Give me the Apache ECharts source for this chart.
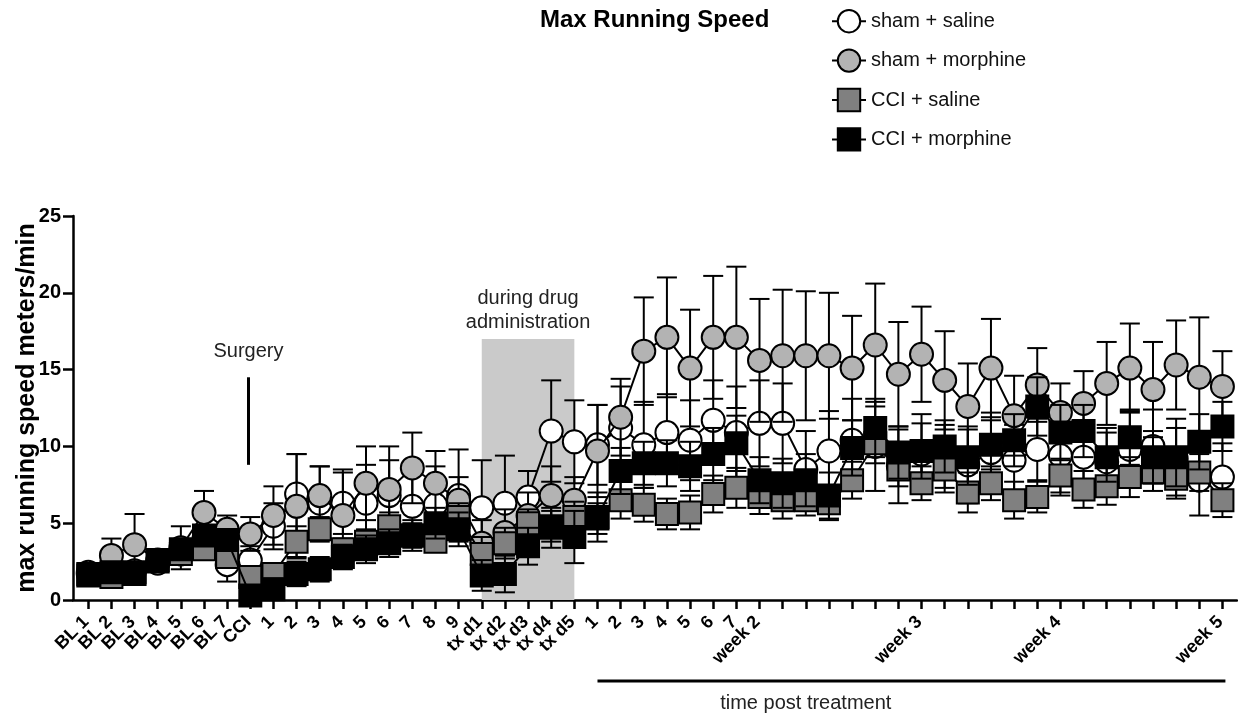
<!DOCTYPE html>
<html>
<head>
<meta charset="utf-8">
<script src="https://cdn.jsdelivr.net/npm/echarts@6/dist/echarts.min.js"></script>
<style>
  html, body { margin: 0; padding: 0; background: #fff; }
  #chart { width: 1238px; height: 715px; }
</style>
</head>
<body>
<div id="chart"></div>
<script>
// x categories (one per session)
const CATEGORIES = ['BL 1', 'BL 2', 'BL 3', 'BL 4', 'BL 5', 'BL 6', 'BL 7', 'CCI',
  '1', '2', '3', '4', '5', '6', '7', '8', '9',
  'tx d1', 'tx d2', 'tx d3', 'tx d4', 'tx d5',
  '1', '2', '3', '4', '5', '6', '7', 'week 2',
  '', '', '', '', '', '', 'week 3',
  '', '', '', '', '', 'week 4',
  '', '', '', '', '', '', 'week 5']

// means (meters/min)
const shamSaline = [1.7, 1.8, 1.9, 2.4, 3.0, 4.0, 2.3, 2.6, 4.8, 6.9, 6.3, 6.3, 6.3, 6.8, 6.1, 6.2, 6.8,
  6.0, 6.3, 6.7, 11.0, 10.3, 10.1, 11.2, 10.1, 10.9, 10.4, 11.7, 10.9, 11.5, 11.5, 8.5, 9.7, 10.4,
  10.0, 8.7, 9.5, 9.2, 8.8, 9.6, 9.1, 9.8, 9.4, 9.3, 9.0, 9.8, 10.0, 9.2, 7.8, 8.0]
const shamMorphine = [1.8, 2.9, 3.6, 2.6, 3.4, 5.7, 4.6, 4.3, 5.5, 6.1, 6.8, 5.5, 7.6, 7.2, 8.6, 7.6, 6.5,
  3.7, 4.4, 5.5, 6.8, 6.5, 9.7, 11.9, 16.2, 17.1, 15.1, 17.1, 17.1, 15.6, 15.9, 15.9, 15.9, 15.1,
  16.6, 14.7, 16.0, 14.3, 12.6, 15.1, 12.0, 14.0, 12.2, 12.8, 14.1, 15.1, 13.7, 15.3, 14.5, 13.9]
const cciSaline = [1.6, 1.5, 1.7, 2.5, 3.0, 3.3, 2.8, 1.5, 1.7, 3.8, 4.6, 3.3, 3.8, 4.8, 4.2, 3.8, 5.4,
  3.0, 3.7, 5.0, 4.8, 5.4, 5.3, 6.5, 6.2, 5.6, 5.7, 6.9, 7.3, 6.7, 6.5, 6.5, 6.3, 7.8,
  10.2, 8.5, 7.6, 8.5, 7.0, 7.6, 6.5, 6.7, 8.1, 7.2, 7.4, 8.0, 8.3, 7.9, 8.3, 6.5]
const cciMorphine = [1.7, 1.8, 1.8, 2.6, 3.3, 4.2, 3.9, 0.3, 0.7, 1.7, 2.0, 2.8, 3.3, 3.7, 4.2, 5.0, 4.6,
  1.6, 1.7, 3.5, 4.7, 4.1, 5.4, 8.4, 8.9, 8.9, 8.7, 9.5, 10.2, 7.8, 7.6, 7.8, 6.8, 9.9,
  11.2, 9.6, 9.7, 10.0, 9.3, 10.1, 10.4, 12.6, 10.9, 11.0, 9.3, 10.6, 9.3, 9.3, 10.3, 11.3]

// SEM
const shamSalineErr = [0.3, 0.3, 0.4, 0.5, 0.6, 0.8, 1.1, 0.9, 1.5, 2.6, 2.4, 2.0, 2.5, 2.3, 2.2, 2.5, 3.0,
  3.1, 3.1, 1.7, 3.3, 2.7, 2.6, 2.7, 2.8, 2.5, 2.6, 2.6, 3.0, 2.8, 2.6, 2.5, 2.6, 2.7,
  2.9, 2.4, 2.6, 2.2, 2.5, 2.6, 2.3, 2.0, 2.6, 2.4, 2.2, 2.5, 2.4, 2.6, 2.3, 2.2]
const shamMorphineErr = [0.3, 1.1, 2.0, 0.5, 1.4, 1.4, 0.9, 1.1, 1.9, 3.4, 1.9, 3.0, 2.4, 2.8, 2.3, 2.1, 1.5,
  1.5, 1.5, 1.5, 1.9, 1.5, 3.0, 2.5, 3.5, 3.9, 3.8, 4.0, 4.6, 4.0, 4.3, 4.2, 4.1, 3.4,
  4.0, 3.4, 3.1, 3.2, 2.8, 3.2, 2.6, 2.4, 1.9, 2.1, 2.7, 2.9, 3.1, 2.9, 3.9, 2.3]
const cciSalineErr = [0.3, 0.3, 0.3, 0.4, 0.5, 0.5, 0.5, 0.6, 0.7, 1.0, 0.8, 0.7, 0.8, 0.9, 0.8, 0.6, 0.9,
  1.1, 1.0, 0.9, 1.0, 1.0, 1.0, 1.2, 1.1, 1.0, 1.1, 1.2, 1.3, 1.1, 1.2, 1.0, 1.1, 1.2,
  1.3, 1.1, 1.1, 1.2, 1.3, 1.1, 1.2, 1.0, 1.1, 1.2, 1.2, 1.3, 1.2, 1.1, 1.2, 1.1]
const cciMorphineErr = [0.3, 0.3, 0.3, 0.4, 0.5, 0.6, 0.6, 0.6, 0.7, 0.8, 0.8, 0.8, 0.9, 0.9, 1.0, 1.0, 1.1,
  1.0, 1.2, 1.2, 1.3, 1.7, 1.6, 1.5, 1.4, 1.5, 1.6, 1.7, 1.8, 1.5, 1.6, 1.7, 1.5, 1.8,
  1.9, 1.7, 1.8, 1.7, 1.8, 1.6, 1.7, 1.9, 1.8, 1.7, 1.6, 1.8, 1.7, 1.9, 1.8, 1.6]

// annotations
const DRUG_START = 17, DRUG_END = 21, DRUG_TOP = 17
const SURGERY_X = 6.92, SURGERY_FROM = 8.8, SURGERY_TO = 14.5
const POST_START = 22, POST_END = 49, POST_LABEL = 31

const X_MIN = -0.66, X_MAX = 49.63
const FONT = '"Liberation Sans", Arial, Helvetica, sans-serif'

const groups = [
  { name: 'sham + saline', mean: shamSaline, err: shamSalineErr, symbol: 'circle', color: '#ffffff', size: 23 },
  { name: 'sham + morphine', mean: shamMorphine, err: shamMorphineErr, symbol: 'circle', color: '#b3b3b3', size: 23 },
  { name: 'CCI + saline', mean: cciSaline, err: cciSalineErr, symbol: 'rect', color: '#808080', size: 22 },
  { name: 'CCI + morphine', mean: cciMorphine, err: cciMorphineErr, symbol: 'rect', color: '#000000', size: 22 }
]

// 误差线
function renderErr(params, api) {
  const x = api.value(0)
  const top = api.coord([x, api.value(2)])
  const bot = api.coord([x, api.value(1)])
  const w = 10
  const style = { stroke: '#000', lineWidth: 2 }
  return {
    type: 'group',
    children: [
      { type: 'line', shape: { x1: top[0], y1: top[1], x2: bot[0], y2: bot[1] }, style },
      { type: 'line', shape: { x1: top[0] - w, y1: top[1], x2: top[0] + w, y2: top[1] }, style },
      { type: 'line', shape: { x1: bot[0] - w, y1: bot[1], x2: bot[0] + w, y2: bot[1] }, style }
    ]
  }
}

const series = [{
  type: 'line',
  data: [],
  z: 1,
  markArea: {
    silent: true,
    itemStyle: { color: '#cacaca' },
    label: {
      show: true, position: 'top', distance: 4,
      formatter: 'during drug\nadministration',
      color: '#222', fontSize: 20, lineHeight: 24, fontFamily: FONT
    },
    data: [[{ xAxis: DRUG_START, yAxis: 0 }, { xAxis: DRUG_END, yAxis: DRUG_TOP }]]
  },
  markLine: {
    silent: true,
    symbol: 'none',
    lineStyle: { color: '#000', width: 3, type: 'solid' },
    label: {
      show: true, position: 'end', distance: 16, formatter: 'Surgery',
      color: '#222', fontSize: 20, fontFamily: FONT
    },
    data: [[{ coord: [SURGERY_X, SURGERY_FROM] }, { coord: [SURGERY_X, SURGERY_TO] }]]
  }
}]

groups.forEach((g, k) => {
  series.push({
    type: 'custom',
    z: 2 + k * 2,
    renderItem: renderErr,
    encode: { x: 0, y: [1, 2] },
    data: g.mean.map((v, i) => [i, v - g.err[i], v + g.err[i]])
  })
  series.push({
    type: 'line',
    name: g.name,
    z: 3 + k * 2,
    symbol: g.symbol,
    symbolSize: g.size,
    showAllSymbol: true,
    lineStyle: { color: '#000', width: 2 },
    itemStyle: { color: g.color, borderColor: '#000', borderWidth: 2 },
    data: g.mean.map((v, i) => [i, v])
  })
})

const ticks = CATEGORIES.map((c, i) => i)
// empty placeholder labels at the axis ends so the min/max overlap check skips the real ones
const labelValues = [X_MIN].concat(ticks, [X_MAX])

const chart = echarts.init(document.getElementById('chart'), null, { renderer: 'canvas' })
chart.setOption({
  animation: false,
  backgroundColor: '#fff',
  textStyle: { fontFamily: FONT },
  title: {
    text: 'Max Running Speed',
    left: 540, top: 8, padding: 0,
    textStyle: { fontSize: 24, fontWeight: 'bold', color: '#000', fontFamily: FONT }
  },
  legend: {
    orient: 'vertical',
    left: 826, top: 4,
    itemWidth: 34, itemHeight: 28, itemGap: 15,
    data: groups.map(g => g.name),
    textStyle: { fontSize: 20, color: '#111', fontFamily: FONT }
  },
  grid: { left: 73, right: 1, top: 216, bottom: 115, outerBoundsMode: 'none' },
  xAxis: {
    type: 'value',
    min: X_MIN, max: X_MAX,
    axisLine: { onZero: false, lineStyle: { color: '#000', width: 2.5 } },
    axisTick: { show: true, inside: false, length: 9, lineStyle: { color: '#000', width: 2.5 }, customValues: ticks },
    axisLabel: {
      customValues: labelValues,
      formatter: v => (Number.isInteger(v) ? CATEGORIES[v] : ''),
      rotate: 45, margin: 17, hideOverlap: false, showMinLabel: false, showMaxLabel: false,
      lineHeight: 12, padding: [0, 3, 0, 0],
      fontSize: 18, fontWeight: 'bold', color: '#000', fontFamily: FONT
    },
    splitLine: { show: false }
  },
  yAxis: {
    type: 'value',
    min: 0, max: 25, interval: 5,
    name: 'max running speed meters/min',
    nameLocation: 'middle', nameGap: 33, nameMoveOverlap: false,
    nameTextStyle: { fontSize: 25, fontWeight: 'bold', color: '#000', fontFamily: FONT },
    axisLine: { show: true, onZero: false, lineStyle: { color: '#000', width: 2.5 } },
    axisTick: { show: true, inside: false, length: 10, lineStyle: { color: '#000', width: 2.5 } },
    axisLabel: { margin: 12, fontSize: 20, fontWeight: 'bold', color: '#000', fontFamily: FONT },
    splitLine: { show: false }
  },
  series
})

// time post treatment bracket
const x0 = chart.convertToPixel({ xAxisIndex: 0 }, POST_START)
const x1 = chart.convertToPixel({ xAxisIndex: 0 }, POST_END)
const xl = chart.convertToPixel({ xAxisIndex: 0 }, POST_LABEL)
chart.setOption({
  graphic: [
    { type: 'line', shape: { x1: x0, y1: 681, x2: x1 + 3, y2: 681 }, style: { stroke: '#000', lineWidth: 3 } },
    {
      type: 'text', x: xl, y: 703,
      style: { text: 'time post treatment', fontSize: 20, fontFamily: FONT, fill: '#222', align: 'center', verticalAlign: 'middle' }
    }
  ]
})
</script>
</body>
</html>
